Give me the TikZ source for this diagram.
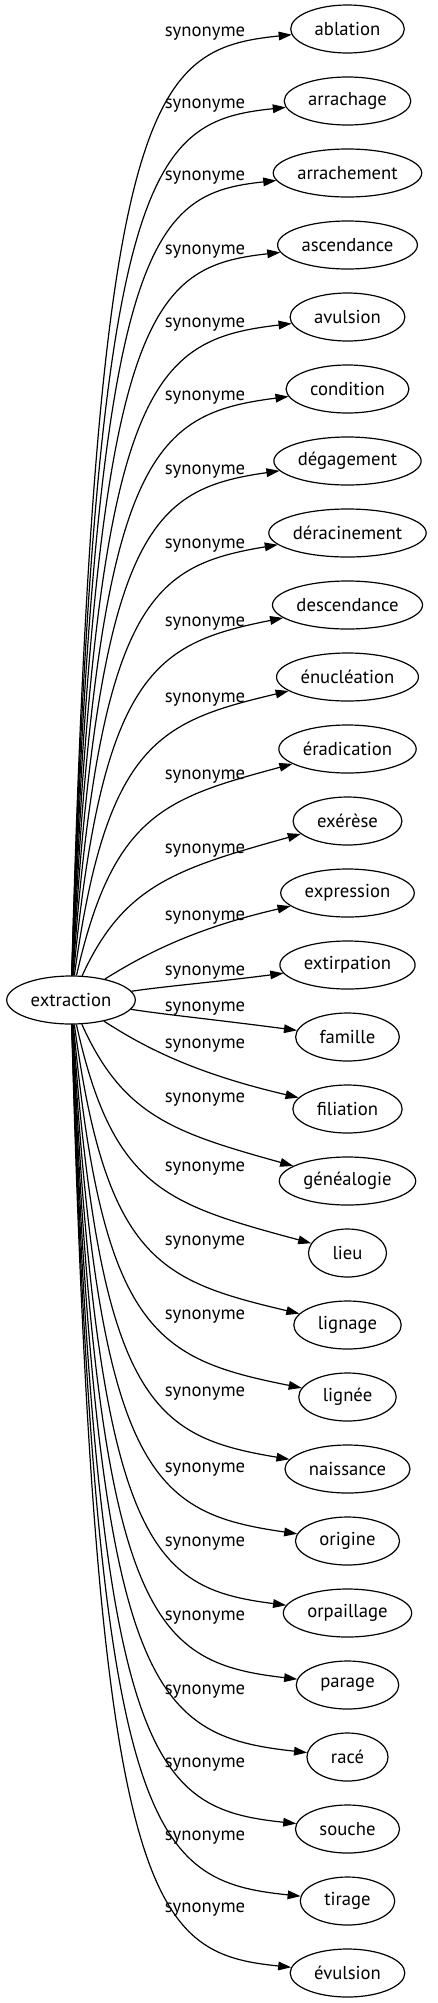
\documentclass[tikz,border=0pt]{standalone}
\usepackage{fontspec}
\setmainfont{PT Sans}
\usetikzlibrary{shapes.geometric,arrows.meta}
\tikzset{
wordnode/.style={
  draw,
  ellipse,
  line width=0.9pt,
  minimum height=36pt,
  inner sep=0pt
},
rellabel/.style={
  anchor=base,
  inner sep=0pt
},
synarrow/.style={
  -{Triangle[length=9.75pt,width=6.5pt]},
  line width=0.9pt
}
}
\begin{document}
\fontsize{14pt}{17pt}\selectfont
\begin{tikzpicture}[x=0.75pt,y=-0.75pt]
  \useasboundingbox (0,0) rectangle (438,2003);
  \pgfmathsetmacro\srcw{width("extraction")+36}
  \node[wordnode, minimum width=\srcw pt] (extraction) at (71,1000) {extraction};
  % one word, its label and its arrow per entry
  \foreach \word/\ly [count=\i from 0] in {ablation/31.7, arrachage/103.3,
    arrachement/175, ascendance/249.3, avulsion/322.7, condition/395,
    dégagement/469.3, déracinement/543, descendance/621, énucléation/697.7,
    éradication/774, exérèse/848, expression/915, extirpation/970,
    famille/1006, filiation/1043, généalogie/1097, lieu/1166, lignage/1240,
    lignée/1314, naissance/1391.7, origine/1467, orpaillage/1541.7,
    parage/1615.7, racé/1689, souche/1762, tirage/1835, évulsion/1907}{
    \pgfmathsetmacro\ty{29+72*\i}
    \pgfmathsetmacro\dd{\ty-1000}
    \pgfmathsetmacro\aa{abs(\dd)}
    \pgfmathsetmacro\sg{\dd/\aa}
    \pgfmathsetmacro\ee{exp(-\aa/150)}
    \pgfmathsetmacro\ff{(\aa/200)*exp(1-\aa/200)}
    \pgfmathsetmacro\kk{0.1+0.18*\ff*\ff}
    \pgfmathsetmacro\ax{96+90*\ee}
    \pgfmathsetmacro\ay{\ty-\sg*min(65,0.6*\aa)}
    \pgfmathsetmacro\bx{150+80*\ee}
    \pgfmathsetmacro\by{\ty-\sg*\kk*(347.5-\bx)}
    \pgfmathsetmacro\w{width("\word")+36}
    \node[wordnode, minimum width=\w pt] (syn\i) at (347.5,\ty) {\word};
    \node[rellabel] (lab\i) at (205,\ly+5) {synonyme};
    \draw[synarrow] (extraction) .. controls (\ax,\ay) and (\bx,\by) .. (syn\i);
  }
\end{tikzpicture}
\end{document}
